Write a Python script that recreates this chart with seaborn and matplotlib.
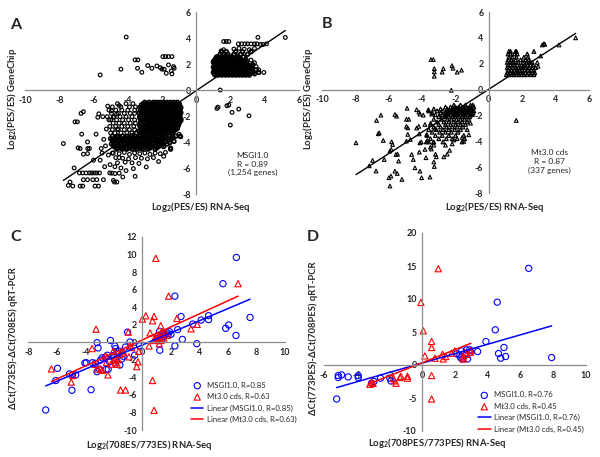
import numpy as np
import pandas as pd
import matplotlib
matplotlib.use("Agg")
import matplotlib.pyplot as plt
import matplotlib.font_manager as fm
import seaborn as sns

# ---------------- DATA ----------------
# Panel A (MSGI1.0, GeneChip vs RNA-Seq) - rows: y level -> x values
a_core_y = [-0.95, -1.15, -1.35, -1.55, -1.75, -1.95, -2.15, -2.35, -2.55, -2.75, -2.95, -3.15, -3.35]
a_core_x = [
    [-3.0, -2.75, -2.5, -2.3, -2.1, -1.9, -1.7, -1.5, -1.3, -1.1],
    [-3.2, -2.95, -2.7, -2.5, -2.35, -2.15, -1.95, -1.8, -1.6, -1.4, -1.2, -1.0],
    [-3.3, -3.05, -2.85, -2.6, -2.4, -2.2, -2.0, -1.85, -1.65, -1.45, -1.25, -1.05, -0.9],
    [-3.15, -2.9, -2.7, -2.5, -2.3, -2.1, -1.9, -1.7, -1.5, -1.3, -1.1, -0.95],
    [-3.35, -3.1, -2.8, -2.6, -2.4, -2.2, -2.05, -1.85, -1.65, -1.45, -1.25, -1.05, -0.9],
    [-3.2, -2.95, -2.7, -2.5, -2.3, -2.1, -1.9, -1.7, -1.5, -1.3, -1.1, -0.95],
    [-3.3, -3.05, -2.85, -2.6, -2.4, -2.2, -2.0, -1.8, -1.6, -1.4, -1.2, -1.0],
    [-3.15, -2.9, -2.7, -2.5, -2.3, -2.1, -1.9, -1.7, -1.5, -1.3, -1.1, -0.9],
    [-3.25, -3.0, -2.8, -2.6, -2.4, -2.2, -2.0, -1.8, -1.6, -1.4, -1.2, -1.0],
    [-3.3, -3.1, -2.85, -2.65, -2.45, -2.25, -2.05, -1.85, -1.65, -1.45, -1.25, -1.05],
    [-3.2, -2.95, -2.75, -2.55, -2.35, -2.15, -1.95, -1.75, -1.55, -1.35, -1.1],
    [-3.35, -3.1, -2.9, -2.65, -2.45, -2.2, -2.0, -1.8, -1.55, -1.3],
    [-3.2, -2.95, -2.7, -2.45, -2.2, -1.95, -1.7, -1.4],
]
a_core2_y = [-1.05, -1.25, -1.45, -1.65, -1.85, -2.05, -2.25, -2.45, -2.65, -2.85, -3.05, -3.25]
a_core2_x = [
    [-3.1, -2.85, -2.6, -2.4, -2.2, -2.0, -1.8, -1.6, -1.4, -1.2, -1.0],
    [-3.05, -2.8, -2.6, -2.45, -2.25, -2.05, -1.85, -1.7, -1.5, -1.3, -1.1, -0.95],
    [-3.2, -2.95, -2.75, -2.5, -2.3, -2.1, -1.9, -1.75, -1.55, -1.35, -1.15, -0.95],
    [-3.25, -3.0, -2.8, -2.6, -2.4, -2.2, -2.0, -1.8, -1.6, -1.4, -1.2, -1.0],
    [-3.1, -2.9, -2.7, -2.5, -2.3, -2.15, -1.95, -1.75, -1.55, -1.35, -1.15, -0.95],
    [-3.3, -3.05, -2.85, -2.6, -2.4, -2.2, -2.0, -1.8, -1.6, -1.4, -1.2, -1.0],
    [-3.2, -2.95, -2.75, -2.5, -2.3, -2.1, -1.9, -1.7, -1.5, -1.3, -1.1, -0.9],
    [-3.25, -3.05, -2.8, -2.6, -2.4, -2.2, -2.0, -1.8, -1.6, -1.4, -1.2, -1.0],
    [-3.15, -2.9, -2.7, -2.5, -2.3, -2.1, -1.9, -1.7, -1.5, -1.3, -1.1],
    [-3.25, -3.0, -2.8, -2.6, -2.4, -2.2, -2.0, -1.8, -1.6, -1.4, -1.2],
    [-3.1, -2.85, -2.65, -2.45, -2.25, -2.05, -1.85, -1.65, -1.45, -1.2],
    [-3.25, -3.0, -2.8, -2.55, -2.3, -2.1, -1.9, -1.65, -1.45],
]
a_band_y = [-3.55, -3.65, -3.75, -3.85, -3.95, -4.05, -4.15, -4.25, -4.35, -4.45, -4.55]
a_band_x = [
    [-4.9, -4.6, -4.3, -4.05, -3.8, -3.55, -3.3, -3.05, -2.8, -2.5, -2.2, -1.9, -1.6, -1.2, -0.95],
    [-4.75, -4.45, -4.15, -3.9, -3.65, -3.4, -3.15, -2.9, -2.6, -2.3, -2.0, -1.7, -1.35],
    [-5.0, -4.75, -4.45, -4.2, -3.95, -3.7, -3.45, -3.2, -2.9, -2.65, -2.35, -2.05, -1.75, -1.45],
    [-4.9, -4.6, -4.35, -4.1, -3.85, -3.6, -3.35, -3.1, -2.85, -2.55, -2.25, -1.95, -1.6],
    [-4.85, -4.55, -4.3, -4.05, -3.8, -3.55, -3.3, -3.05, -2.75, -2.4, -2.1, -1.8, -1.3],
    [-4.7, -4.45, -4.2, -3.95, -3.7, -3.45, -3.2, -2.95, -2.65, -2.3, -2.0, -1.55],
    [-4.95, -4.7, -4.4, -4.15, -3.9, -3.6, -3.35, -3.1, -2.8, -2.5, -2.15, -1.7],
    [-4.85, -4.55, -4.3, -4.0, -3.75, -3.5, -3.2, -2.95, -2.65, -2.35, -2.0],
    [-4.8, -4.5, -4.25, -3.95, -3.7, -3.4, -3.1, -2.85, -2.55, -2.2, -1.9],
    [-4.6, -4.3, -4.1, -3.85, -3.55, -3.25, -2.95, -2.7, -2.3],
    [-4.65, -4.35, -4.05, -3.75, -3.45, -3.15, -2.8, -2.4, -1.5],
]
a_mid_y = [-1.05, -1.3, -1.55, -1.8, -2.05, -2.3, -2.55, -2.8, -3.05, -3.3]
a_mid_x = [
    [-4.6, -4.1, -3.7],
    [-4.9, -4.4, -3.9, -3.55],
    [-5.1, -4.7, -4.35, -4.0, -3.6],
    [-4.95, -4.55, -4.2, -3.85, -3.6],
    [-5.2, -4.8, -4.45, -4.1, -3.75],
    [-5.0, -4.65, -4.3, -3.95, -3.6],
    [-4.85, -4.5, -4.2, -3.85, -3.55],
    [-5.05, -4.7, -4.35, -4.0, -3.65],
    [-4.9, -4.55, -4.2, -3.9, -3.6],
    [-4.75, -4.4, -4.05, -3.75, -3.5],
]
a_sparse_x = [-4.85, -4.5, -4.2, -3.9, -3.6, -3.3, -3.0, -2.7, -2.4, -2.1, -1.8, -1.5, -4.7, -4.3, -3.95,
              -3.55, -3.2, -2.85, -2.5, -4.6, -4.15, -3.75, -3.35, -2.92, -4.4, -3.67, -4.1, -4.29, -3.57,
              -4.5, -1.9, -2.2, -0.9, -1.0]
a_sparse_y = [-4.85, -4.9, -4.8, -4.95, -4.85, -4.9, -4.85, -4.95, -4.85, -4.9, -4.8, -4.45, -5.2, -5.25, -5.3,
              -5.2, -5.25, -5.3, -5.2, -5.6, -5.55, -5.6, -5.65, -5.92, -6.0, -6.05, -6.2, -6.69, -6.64,
              -6.4, -5.1, -5.5, -3.6, -3.4]
a_far_x = [-7.76, -7.47, -7.37, -7.21, -7.13, -7.08, -6.94, -6.82, -6.78, -6.78, -6.73, -6.69, -6.63, -6.63,
           -6.59, -6.59, -6.59, -6.43, -6.35, -6.35, -6.34, -6.24, -6.24, -6.1, -6.04, -6.0, -5.95, -5.91,
           -5.85, -5.81, -5.81, -5.75, -5.71, -5.69, -5.65, -5.61, -5.55, -5.5, -5.46, -5.42, -5.4, -5.35,
           -5.3, -5.25, -5.17, -5.13, -5.1, -5.05, -5.03, -5.0, -4.95, -4.93, -4.9, -4.84, -4.84, -4.78,
           -4.75, -4.74, -4.7, -4.65, -4.64, -4.6, -4.55, -4.5, -4.5, -6.35, -6.9]
a_far_y = [-4.12, -7.34, -7.08, -7.39, -6.0, -2.45, -2.45, -6.38, -4.5, -7.39, -1.8, -3.4, -6.38, -7.39,
           -1.67, -4.94, -6.9, -6.38, -4.89, -6.9, -4.5, -4.5, -6.38, -6.38, -6.9, -5.4, -6.38, -7.39,
           -3.4, -6.38, -6.9, -2.1, -7.39, -1.83, -6.38, -5.4, -4.5, -4.85, -2.05, -6.9, -3.8, -5.9,
           -4.3, -3.0, -1.24, -5.0, -2.3, -6.38, -5.74, -3.3, -1.6, -6.4, -4.85, -6.95, -2.1, -7.08,
           -5.9, -6.43, -4.3, -1.85, -7.08, -3.0, -3.6, -5.2, -1.2, -4.0, -4.45]
a_up_y = [1.15, 1.25, 1.35, 1.45, 1.55, 1.65, 1.75, 1.85, 1.95, 2.05, 2.15, 2.25, 2.35, 2.45, 2.55, 2.75, 2.95]
a_up_x = [
    [1.1, 1.3, 1.5, 1.7, 1.9, 2.1, 2.3, 2.5, 2.7, 2.9, 3.1],
    [1.05, 1.25, 1.45, 1.65, 1.85, 2.05, 2.25, 2.45, 2.65, 2.85, 3.05, 3.4],
    [1.0, 1.2, 1.4, 1.6, 1.8, 2.0, 2.2, 2.4, 2.6, 2.8, 3.0, 3.3, 3.65],
    [1.05, 1.2, 1.4, 1.6, 1.8, 2.0, 2.2, 2.4, 2.6, 2.8, 3.0, 3.25],
    [1.1, 1.3, 1.5, 1.7, 1.9, 2.1, 2.3, 2.5, 2.7, 2.9, 3.15, 3.5],
    [1.05, 1.25, 1.45, 1.65, 1.85, 2.05, 2.25, 2.5, 2.7, 2.95, 3.25],
    [1.0, 1.2, 1.4, 1.6, 1.8, 2.0, 2.2, 2.4, 2.6, 2.85, 3.1],
    [1.05, 1.25, 1.45, 1.65, 1.85, 2.05, 2.25, 2.45, 2.7, 2.95, 3.2],
    [1.1, 1.3, 1.5, 1.7, 1.9, 2.1, 2.3, 2.5, 2.75, 3.0, 3.3],
    [1.05, 1.25, 1.45, 1.65, 1.85, 2.05, 2.25, 2.4, 2.6, 2.85],
    [1.0, 1.2, 1.4, 1.6, 1.8, 2.0, 2.2, 2.45, 2.7, 2.95],
    [1.05, 1.25, 1.45, 1.65, 1.85, 2.05, 2.3, 2.5, 2.8],
    [1.1, 1.3, 1.5, 1.7, 1.9, 2.1, 2.35, 2.6, 2.9],
    [1.15, 1.4, 1.6, 1.8, 2.0, 2.25, 2.5],
    [1.2, 1.45, 1.65, 1.85, 2.1, 2.4, 2.75],
    [1.4, 1.6, 1.85, 2.2, 2.6, 3.0],
    [1.5, 1.75, 2.3, 2.7, 3.2],
]
a_other_x = [1.6, 1.75, 1.9, 2.46, 2.65, 2.85, 3.0, 3.2, 3.4, 3.55, 3.75, 3.9, 4.1, 3.6, 5.2, 2.2, 2.5, 2.8,
             3.1, 3.4, 1.45, 1.6, 3.95, 3.65, 3.5, 3.4, 3.2, 1.4,
             1.21, 1.27, 1.79, 1.9, 2.48, 2.09, 3.08, 1.99,
             -4.09, -5.61, -4.4, -3.57, -3.41, -3.43, -3.18, -2.83, -2.59, -2.3, -2.1, -1.95, -1.79, -1.62,
             -1.42, -2.0, -1.87, -1.75, -1.62, -1.46, -1.33, -1.42, -1.29]
a_other_y = [3.73, 3.73, 3.73, 3.55, 3.55, 3.55, 3.55, 3.55, 3.55, 3.55, 3.5, 3.5, 3.55, 4.05, 4.04, 3.15, 3.2, 3.15,
             3.1, 3.2, 3.0, 3.1, 1.35, 1.55, 1.8, 2.1, 2.3, 0.0,
             -1.42, -1.32, -1.21, -1.16, -1.47, -1.72, -1.98, -2.7,
             4.07, 1.16, 1.6, 2.32, 2.32, 1.67, 1.36, 1.88, 1.67, 1.85, 1.72, 2.57, 2.57, 2.57,
             2.57, 1.6, 1.6, 1.29, 1.93, 1.47, 1.8, 1.24, 1.67]
a_slope, a_intercept = 0.89, -0.05

# Panel B (Mt3.0 cds)
b_up_y = [1.15, 1.3, 1.5, 1.7, 1.9, 2.1, 2.3, 2.5, 2.75, 2.95]
b_up_x = [
    [1.05, 1.2, 1.35, 1.5, 1.65, 1.8, 1.95, 2.1, 2.3, 2.5, 2.7],
    [1.1, 1.3, 1.45, 1.6, 1.75, 1.9, 2.05, 2.2, 2.4, 2.6, 2.75],
    [1.15, 1.35, 1.55, 1.7, 1.85, 2.0, 2.15, 2.35, 2.55, 2.7],
    [1.1, 1.25, 1.45, 1.6, 1.8, 2.0, 2.2, 2.4, 2.6, 2.8],
    [1.15, 1.3, 1.5, 1.7, 1.95, 2.15, 2.3, 2.5, 2.65],
    [1.1, 1.3, 1.5, 1.75, 2.05, 2.25, 2.45, 2.6],
    [1.15, 1.35, 1.6, 1.9, 2.2, 2.4],
    [1.2, 1.4, 1.65, 2.1, 2.35],
    [1.15, 1.3, 1.55, 1.7, 2.3],
    [1.2, 1.3, 1.6, 1.65, 2.7],
]
b_core_y = [-1.2, -1.35, -1.45, -1.5, -1.6, -1.65, -1.75, -1.8, -1.9, -1.95, -2.1, -2.3, -2.5, -2.7, -2.9,
            -3.1, -3.3, -3.55, -3.8, -4.05]
b_core_x = [
    [-2.1, -1.7, -1.4, -1.1, -0.95],
    [-2.6, -2.3, -2.0, -1.8, -1.6, -1.35, -1.15, -0.9],
    [-2.1, -1.9, -1.55, -1.2],
    [-3.3, -2.9, -2.5, -2.2, -2.0, -1.85, -1.65, -1.45, -1.25, -1.05],
    [-2.35, -2.15, -1.8, -1.4, -1.0],
    [-3.6, -3.1, -2.75, -2.45, -2.25, -2.05, -1.9, -1.7, -1.5, -1.3, -1.1, -0.9],
    [-2.5, -2.0, -1.6, -1.25],
    [-3.4, -2.9, -2.6, -2.35, -2.15, -1.95, -1.75, -1.55, -1.35, -1.15, -0.95],
    [-2.45, -2.05, -1.85, -1.45, -1.1],
    [-3.2, -2.8, -2.5, -2.3, -2.1, -1.9, -1.7, -1.5, -1.3, -1.0],
    [-3.0, -2.65, -2.4, -2.2, -2.0, -1.8, -1.6, -1.4, -1.15],
    [-3.3, -2.85, -2.5, -2.25, -1.95, -1.7, -1.45, -1.2],
    [-3.1, -2.7, -2.4, -2.1, -1.85, -1.6, -1.3],
    [-3.5, -3.0, -2.6, -2.3, -2.0, -1.7, -1.4],
    [-3.3, -2.9, -2.55, -2.2, -1.9, -1.55],
    [-3.6, -3.15, -2.75, -2.4, -2.05, -1.7, -1.3],
    [-3.4, -2.95, -2.6, -2.25, -1.85],
    [-3.7, -3.2, -2.8, -2.4, -2.0, -1.5],
    [-3.5, -3.0, -2.55, -2.2, -1.9, -1.45],
    [-3.75, -3.3, -2.75, -1.6],
]
b_other_x = [-7.96, -7.17, -6.97, -6.76, -6.73, -6.47, -6.63, -6.57, -6.33, -6.27, -5.93, -5.85, -5.83, -5.77,
             -5.63, -5.53, -5.57, -5.47, -5.99, -5.87, -5.93, -5.63, -5.49, -5.21, -5.41, -4.94, -4.86, -4.9,
             -4.94, -4.8, -4.86, -4.94, -4.71, -4.63, -4.53, -4.43, -4.33, -4.19, -4.13, -4.33, -4.2, -4.17,
             -4.13, -4.05, -4.17, -4.13, -4.03, -3.93, -3.83, -3.73, -3.69, -3.6, -3.83, -3.77, -3.53, -3.63,
             -3.43, -3.49, -3.23, -3.33, -3.3, -3.2, -3.15, -3.27, -3.3, -3.5, -3.45, -2.7, -2.5, -2.35, -2.2,
             -2.1, -1.5, -1.6, -1.2, -1.1, -1.0, -2.6,
             -3.47, -3.33, -3.27, -3.27, -3.27, -2.73, -2.8, -2.21, -2.15, -1.9, -1.64, -2.25,
             3.1, 3.2, 3.3, 3.35, 4.2, 5.2, 2.9, 2.95, 1.64]
b_other_y = [-4.12, -5.9, -5.48, -6.3, -2.39, -1.98, -3.42, -3.35, -3.94, -5.41, -4.76, -4.63, -4.04, -4.25,
             -1.93, -2.06, -5.02, -5.0, -6.82, -6.69, -7.46, -6.31, -6.49, -6.95, -5.53, -2.85, -2.96, -1.45,
             -2.3, -2.3, -3.47, -3.99, -3.86, -5.02, -5.41, -6.05, -1.56, -1.74, -1.9, -2.98, -2.85, -3.43,
             -4.12, -4.05, -4.84, -6.31, -6.82, -1.98, -2.7, -3.48, -3.94, -4.05, -4.63, -5.27, -6.77, -1.56,
             -1.9, -2.6, -3.0, -4.1, -4.3, -5.0, -5.2, -5.95, -5.6, -4.45, -4.6, -5.2, -5.0, -4.7, -4.2,
             -3.9, -4.0, -3.7, -3.5, -2.6, -1.9, -4.3,
             2.32, 2.32, 1.62, 1.37, 1.03, 1.62, 1.35, 1.85, 1.65, 1.35, 1.5, -0.05,
             2.6, 3.45, 3.55, 3.5, 3.45, 4.0, 2.1, 1.8, -2.39]
b_slope, b_intercept = 0.83, 0.03

# Panel C (qRT-PCR, 708ES vs 773ES)
c_msgi_x = [-6.78, -6.07, -5.95, -5.11, -4.94, -4.68, -3.93, -3.6, -3.5, -3.3, -3.18, -3.01, -3.18, -3.11,
            -2.94, -2.82, -2.59, -2.47, -2.54, -2.4, -2.24, -2.3, -1.93, -1.88, -2.07, -2.0, -1.72, -1.65,
            -1.58, -1.45, -1.35, -1.04, -0.87, -1.18, -0.54, -0.2, 1.22, 1.1, 1.2, 1.3, 1.4, 1.5, 1.6, 1.7,
            1.8, 1.9, 2.0, 1.0, 1.15, 1.35, 2.28, 2.28, 2.47, 2.71, 2.8, 3.53, 3.81, 4.12, 4.64, 4.64, 5.65,
            5.84, 6.05, 6.56, 6.59, 7.55, -4.9, -4.03]
c_msgi_y = [-7.72, -4.36, -2.97, -3.6, -5.47, -3.72, -2.33, -5.41, -2.33, -2.4, -3.35, -3.05, -0.05, -0.65,
            -2.03, -1.77, -1.7, -1.48, -3.09, -3.09, 0.21, -2.22, -0.42, -0.72, -1.54, -1.77, -1.28, -1.02,
            -2.6, -1.9, -1.6, 1.15, 0.03, -0.54, -1.47, -0.4, -0.91, 0.8, 1.25, 0.6, 1.0, 0.7, 0.9, 1.1,
            0.8, 1.2, 0.9, 0.4, 0.2, 0.3, 5.26, -0.42, 1.44, 2.94, 0.33, 2.08, -0.16, 2.53, 3.03, 2.58, 6.68,
            1.59, 1.97, 0.78, 9.67, 2.83, -3.7, -2.36]
c_mt_x = [-6.38, -4.99, -4.87, -3.25, -3.53, -3.31, -3.13, -2.94, -2.82, -2.59, -2.52, -2.42, -2.05, -2.0,
          -1.88, -1.76, -1.53, -1.18, -1.6, -1.45, -1.3, -0.99, -0.94, -0.89, -0.75, -0.4, -0.31, -0.26, 0.0,
          0.24, 0.47, 0.54, 0.71, 0.82, 0.71, 0.82, 0.94, 1.18, 1.29, 1.36, 1.84, 2.42, 3.41, 3.84, 6.71,
          0.9, 1.0, 1.1, 1.2, 1.4, 1.5, 1.6, 1.75, 0.8, 1.3, -1.9, -1.7, -2.2]
c_mt_y = [-3.04, -4.54, -3.79, 1.49, -0.72, -2.53, -3.05, -3.09, -3.2, -1.55, -2.3, -3.72, -1.02, -2.03,
          -2.33, -2.52, -5.44, -5.44, -1.4, -1.0, -1.2, 1.15, -1.66, -0.35, -0.6, -2.78, -2.23, -1.04, 2.64,
          3.02, -0.42, 1.07, 2.45, 2.94, -4.36, -7.76, 9.57, -0.16, 1.89, 1.15, 5.26, 2.72, 1.53, 2.04, 6.68,
          0.5, 0.8, 0.3, 0.6, 0.9, 0.5, 1.1, 0.8, 0.2, 0.2, -1.8, -2.0, -2.5]
c_msgi_fit = (0.69, -0.30)
c_mt_fit = (0.743, 0.27)

# Panel D (qRT-PCR, 708PES vs 773PES)
d_msgi_x = [-5.23, -5.13, -5.13, -4.93, -4.52, -3.91, -3.91, -3.1, -2.95, -2.55, -1.98, -1.91, 2.26, 2.34,
            2.4, 2.44, 2.6, 2.7, 2.77, 2.95, 2.9, 3.38, 3.89, 4.46, 4.58, 4.66, 4.79, 4.99, 5.09, 6.5, 7.9, 2.1]
d_msgi_y = [-5.15, -1.6, -1.9, -1.5, -1.8, -1.6, -1.9, -2.76, -2.5, -2.0, -2.0, -2.42, 1.53, 1.12,
            2.14, 0.91, 1.43, 2.3, 0.92, 1.94, 2.3, 2.04, 3.56, 5.33, 9.52, 1.74, 1.03, 2.65, 1.28, 14.64, 1.13, 1.7]
d_mt_x = [-3.2, -3.1, -3.0, -1.77, -1.7, -1.6, -1.36, -1.3, -0.9, -0.9, -0.08, 0.06, 0.16, 0.57, 0.57, 0.57,
          0.57, 0.77, 0.98, 1.24, 1.28, 1.43, 1.79, 1.99, 2.5, 2.6, 2.7, 2.95, 2.97, 2.5]
d_mt_y = [-2.92, -2.6, -2.8, -2.0, -2.4, -2.76, -1.9, -1.7, -1.7, -2.0, 9.48, 5.18, 1.38, 3.56, 2.65, -1.6,
          -5.15, 1.03, 14.59, 1.63, 0.92, 1.28, 1.79, 2.14, 1.2, 1.9, 1.6, 1.94, 2.2, 0.9]
d_msgi_fit = (0.712, 0.30)
d_mt_fit = (0.99, 0.35)


def flatten(rows_y, rows_x):
    xs, ys = [], []
    for y, row in zip(rows_y, rows_x):
        xs.extend(row)
        ys.extend([y] * len(row))
    return xs, ys


# ---------------- STYLE ----------------
sns.set_style("white")
names = {f.name for f in fm.fontManager.ttflist}
FONT = "Lato" if "Lato" in names else "Liberation Sans"
plt.rcParams["font.family"] = [FONT, "DejaVu Sans"]
plt.rcParams["mathtext.fontset"] = "custom"
plt.rcParams["mathtext.rm"] = FONT
plt.rcParams["mathtext.bf"] = FONT + ":bold"
plt.rcParams["mathtext.it"] = FONT + ":italic"

W, H = 600, 457
fig = plt.figure(figsize=(6.0, 4.57), dpi=100)
AX_COL = "#8c8c8c"


def add_ax(l, r, t, b):
    return fig.add_axes([l / W, 1 - b / H, (r - l) / W, (b - t) / H])


def style_axes(ax, xlim, ylim, xstep, ystep):
    ax.set_xlim(*xlim)
    ax.set_ylim(*ylim)
    for s in ["top", "right"]:
        ax.spines[s].set_visible(False)
    for s in ["left", "bottom"]:
        ax.spines[s].set_position("zero")
        ax.spines[s].set_color(AX_COL)
        ax.spines[s].set_linewidth(0.9)
    ax.set_xticks(np.arange(xlim[0], xlim[1] + 0.01, xstep))
    ax.set_yticks(np.arange(ylim[0], ylim[1] + 0.01, ystep))
    ax.xaxis.set_major_formatter(matplotlib.ticker.FuncFormatter(lambda v, p: f"{v:g}"))
    ax.yaxis.set_major_formatter(matplotlib.ticker.FuncFormatter(lambda v, p: f"{v:g}"))
    ax.tick_params(axis="both", direction="out", length=2.5, width=0.8, color=AX_COL,
                   labelsize=6.4, pad=1.5)
    for lab in ax.get_xticklabels() + ax.get_yticklabels():
        lab.set_fontweight("bold")
    ax.set_xlabel("")
    ax.set_ylabel("")
    ax.patch.set_alpha(0)


def fit_line(ax, xs, slope, intercept, color, label):
    lx = [min(xs), max(xs)]
    df = pd.DataFrame({"x": lx, "y": [slope * v + intercept for v in lx]})
    sns.lineplot(data=df, x="x", y="y", ax=ax, color=color, linewidth=1.1, label=label)


def scatter_group(ax, xs, ys, marker, lw):
    df = pd.DataFrame({"x": xs, "y": ys})
    sns.scatterplot(data=df, x="x", y="y", ax=ax, marker=marker, s=7, facecolors="none",
                    edgecolors="black", linewidth=lw, legend=False)


# ---------------- PANEL A ----------------
axA = add_ax(25, 299, 12, 194)
dense_parts = [flatten(a_core_y, a_core_x), flatten(a_core2_y, a_core2_x), flatten(a_band_y, a_band_x),
               flatten(a_up_y, a_up_x)]
light_parts = [flatten(a_mid_y, a_mid_x), (a_sparse_x, a_sparse_y), (a_far_x, a_far_y),
               (a_other_x, a_other_y)]
for px, py in dense_parts:
    scatter_group(axA, px, py, "o", 1.25)
for px, py in light_parts:
    scatter_group(axA, px, py, "o", 0.85)
ax_all = sum([p[0] for p in dense_parts + light_parts], [])
lxA = [min(ax_all), max(ax_all)]
sns.lineplot(x=lxA, y=[a_slope * v + a_intercept for v in lxA], ax=axA, color="black", linewidth=1.0)
style_axes(axA, (-10, 6), (-8, 6), 2, 2)
axA.text(3.3, -5.7, "MSGI1.0\nR = 0.89\n(1,254 genes)", ha="center", va="center", fontsize=6,
         linespacing=1.3)

# ---------------- PANEL B ----------------
axB = add_ax(322, 589, 12, 193)
bx1, by1 = flatten(b_up_y, b_up_x)
bx2, by2 = flatten(b_core_y, b_core_x)
scatter_group(axB, bx1, by1, "^", 0.9)
scatter_group(axB, bx2, by2, "^", 0.9)
scatter_group(axB, b_other_x, b_other_y, "^", 0.8)
bx_all = bx1 + bx2 + b_other_x
lxB = [min(bx_all), max(bx_all)]
sns.lineplot(x=lxB, y=[b_slope * v + b_intercept for v in lxB], ax=axB, color="black", linewidth=1.0)
style_axes(axB, (-10, 6), (-8, 6), 2, 2)
axB.text(3.65, -5.56, "Mt3.0 cds\nR = 0.87\n(337 genes)", ha="center", va="center", fontsize=6,
         linespacing=1.3)

# ---------------- PANEL C ----------------
axC = add_ax(28.3, 285, 237, 430)
sns.scatterplot(x=c_msgi_x, y=c_msgi_y, ax=axC, marker="o", s=20, facecolors="none",
                edgecolors="#0000ff", linewidth=0.8, label="MSGI1.0, R=0.85")
sns.scatterplot(x=c_mt_x, y=c_mt_y, ax=axC, marker="^", s=20, facecolors="none",
                edgecolors="#ff0000", linewidth=0.8, label="Mt3.0 cds, R=0.63")
fit_line(axC, c_msgi_x, *c_msgi_fit, "#0000ff", "Linear (MSGI1.0, R=0.85)")
fit_line(axC, c_mt_x, *c_mt_fit, "#ff0000", "Linear (Mt3.0 cds, R=0.63)")
style_axes(axC, (-8, 10), (-10, 12), 2, 2)
axC.legend(loc="upper left", bbox_to_anchor=(0.634, 0.25), frameon=False, fontsize=5.6,
           handlelength=1.6, handletextpad=0.4, labelspacing=0.55, borderpad=0.0, borderaxespad=0)

# ---------------- PANEL D ----------------
axD = add_ax(324, 586, 233, 431)
sns.scatterplot(x=d_msgi_x, y=d_msgi_y, ax=axD, marker="o", s=20, facecolors="none",
                edgecolors="#0000ff", linewidth=0.8, label="MSGI1.0, R=0.76")
sns.scatterplot(x=d_mt_x, y=d_mt_y, ax=axD, marker="^", s=20, facecolors="none",
                edgecolors="#ff0000", linewidth=0.8, label="Mt3.0 cds, R=0.45")
fit_line(axD, d_msgi_x, *d_msgi_fit, "#0000ff", "Linear (MSGI1.0, R=0.76)")
fit_line(axD, d_mt_x, *d_mt_fit, "#ff0000", "Linear (Mt3.0 cds, R=0.45)")
style_axes(axD, (-6, 10), (-10, 20), 2, 5)
axD.legend(loc="upper left", bbox_to_anchor=(0.588, 0.2), frameon=False, fontsize=5.6,
           handlelength=1.6, handletextpad=0.4, labelspacing=0.55, borderpad=0.0, borderaxespad=0)

# ---------------- LABELS ----------------
def ftext(x, y, s, **kw):
    fig.text(x / W, 1 - y / H, s, **kw)

lab_kw = dict(fontsize=6.8, fontweight="bold", ha="center", va="center")
ftext(201, 207, r"Log$_{\mathbf{2}}$(PES/ES) RNA-Seq", **lab_kw)
ftext(495, 207, r"Log$_{\mathbf{2}}$(PES/ES) RNA-Seq", **lab_kw)
ftext(149, 445, r"Log$_{\mathbf{2}}$(708ES/773ES) RNA-Seq", **lab_kw)
ftext(437, 443, r"Log$_{\mathbf{2}}$(708PES/773PES) RNA-Seq", **lab_kw)
ftext(12, 99, r"Log$_{\mathbf{2}}$(PES/ES) GeneChip", rotation=90, **lab_kw)
ftext(308, 99, r"Log$_{\mathbf{2}}$(PES/ES) GeneChip", rotation=90, **lab_kw)
ftext(13, 338, "ΔCt(773ES)-ΔCt(708ES) qRT-PCR", rotation=90, **lab_kw)
ftext(313, 338, "ΔCt(773PES)-ΔCt(708PES) qRT-PCR", rotation=90, **lab_kw)

let_kw = dict(fontsize=11.5, fontweight="bold", ha="center", va="center")
ftext(16, 25, "A", **let_kw)
ftext(327, 24, "B", **let_kw)
ftext(16, 237, "C", **let_kw)
ftext(313, 237, "D", **let_kw)

fig.savefig("out.png", dpi=100)
